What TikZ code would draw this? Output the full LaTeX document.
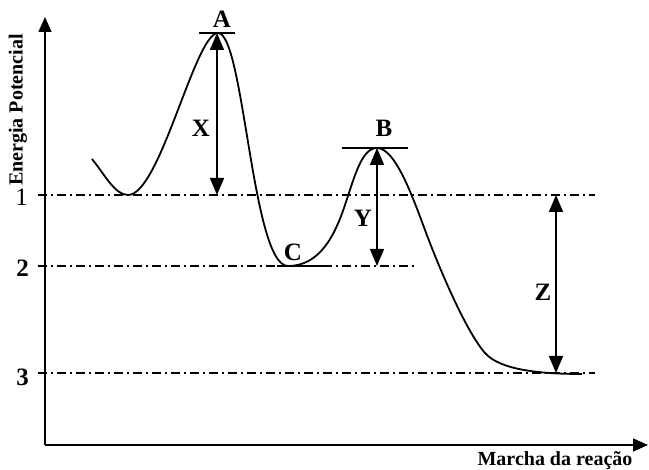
\documentclass[tikz,border=0pt]{standalone}
\usepackage{fontspec}
\setmainfont{Liberation Serif}
\usetikzlibrary{arrows.meta}
\tikzset{
  axisarr/.style={-{Triangle[length=15pt,width=13pt]},line width=1.6pt},
  dimarr/.style={{Triangle[length=17pt,width=14pt]}-{Triangle[length=17pt,width=14pt]},line width=1.6pt},
  lvl/.style={line width=1.1pt,dash pattern=on 9pt off 4pt on 2pt off 4pt},
  curve/.style={line width=1.8pt,line join=round},
  bar/.style={line width=1.6pt},
  lbl/.style={font=\fontsize{25}{27}\selectfont\bfseries,inner sep=1pt},
  tick/.style={font=\fontsize{25}{27}\selectfont,anchor=east,inner sep=1pt},
  axlbl/.style={font=\fontsize{20}{22}\selectfont\bfseries,inner sep=1pt},
}
\begin{document}
\begin{tikzpicture}[x=1pt,y=-1pt]
\useasboundingbox (0,0) rectangle (649,470);
% axes
\coordinate (o) at (45,445);
\coordinate (ytop) at (45,17);
\coordinate (xend) at (648,445);
\draw[axisarr] (o) -- (ytop);
\draw[axisarr] (o) -- (xend);
\node[axlbl,rotate=90] (ylab) at (18,110) {Energia Potencial};
\node[axlbl] (xlab) at (555,461) {Marcha da reação};
% energy levels
\coordinate (l1a) at (38,195); \coordinate (l1b) at (595,195);
\coordinate (l2a) at (38,266); \coordinate (l2b) at (415,266);
\coordinate (l3a) at (38,373); \coordinate (l3b) at (595,373);
\draw[lvl] (l1a) -- (l1b);
\draw[lvl] (l2a) -- (l2b);
\draw[lvl] (l3a) -- (l3b);
\node[tick] (t1) at (29,197) {1};
\node[tick,font=\fontsize{25}{27}\selectfont\bfseries] (t2) at (30,268) {2};
\node[tick,font=\fontsize{25}{27}\selectfont\bfseries] (t3) at (30,377) {3};
% reaction path
\coordinate (p0) at (92,159);
\coordinate (m1) at (128,195);
\coordinate (pa) at (218,33);
\coordinate (pc) at (288,266);
\coordinate (q1) at (345,205);
\coordinate (pb) at (377,148);
\coordinate (q2) at (425,230);
\coordinate (q3) at (485,353);
\coordinate (pe) at (582,374);
\draw[curve] (p0) .. controls (105,175) and (115,195) .. (m1)
  .. controls (160,195) and (195,33) .. (pa)
  .. controls (244,33) and (252,266) .. (pc)
  .. controls (320,266) and (335,235) .. (q1)
  .. controls (355,175) and (362,148) .. (pb)
  .. controls (395,148) and (412,195) .. (q2)
  .. controls (438,265) and (465,330) .. (q3)
  .. controls (500,370) and (540,374) .. (pe);
% tops and bottom
\coordinate (a1) at (199,33); \coordinate (a2) at (235,33);
\coordinate (b1) at (342,148); \coordinate (b2) at (408,148);
\coordinate (c1) at (277,266); \coordinate (c2) at (332,266);
\draw[bar] (a1) -- (a2);
\draw[bar] (b1) -- (b2);
\draw[bar] (c1) -- (c2);
\node[lbl] (A) at (222,19) {A};
\node[lbl] (B) at (384,128) {B};
\node[lbl] (C) at (293,252) {C};
% differences
\coordinate (xt) at (217,33); \coordinate (xb) at (217,195);
\coordinate (yt) at (377,148); \coordinate (yb) at (377,266);
\coordinate (zt) at (556,195); \coordinate (zb) at (556,373);
\draw[dimarr] (xt) -- (xb);
\draw[dimarr] (yt) -- (yb);
\draw[dimarr] (zt) -- (zb);
\node[lbl] (X) at (201,128) {X};
\node[lbl] (Y) at (363,218) {Y};
\node[lbl] (Z) at (543,292) {Z};
\end{tikzpicture}
\end{document}
